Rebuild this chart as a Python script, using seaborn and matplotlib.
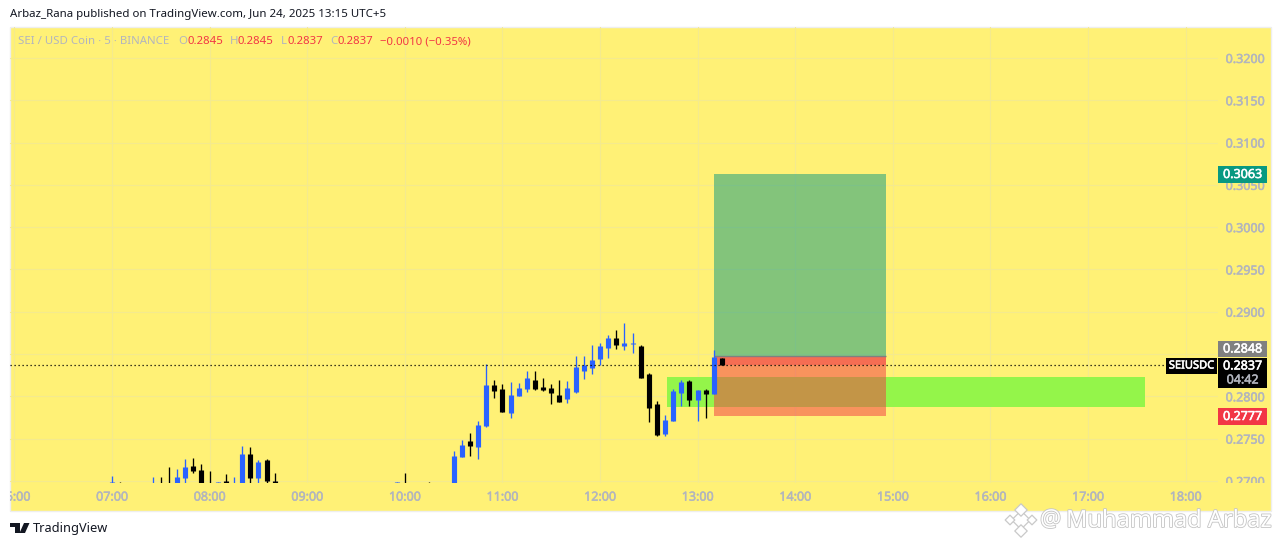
import matplotlib
matplotlib.use("Agg")
import matplotlib.pyplot as plt
import matplotlib.patheffects as pe
from matplotlib.patches import Rectangle, Polygon
from matplotlib.transforms import Bbox
import seaborn as sns
import pandas as pd

# velas de 5 minutos (las de la izquierda quedan casi fuera de la vista)
times = ["07:00", "07:05", "07:25", "07:30", "07:35", "07:40", "07:45", "07:50", "07:55", "08:00",
         "08:05", "08:10", "08:15", "08:20", "08:25", "08:30", "08:35", "08:40", "09:55", "10:00",
         "10:15", "10:30", "10:35", "10:40", "10:45", "10:50", "10:55", "11:00", "11:05", "11:10",
         "11:15", "11:20", "11:25", "11:30", "11:35", "11:40", "11:45", "11:50", "11:55", "12:00",
         "12:05", "12:10", "12:15", "12:20", "12:25", "12:30", "12:35", "12:40", "12:45", "12:50",
         "12:55", "13:00", "13:05", "13:10", "13:15"]
opens = [.2698, .2696, .2690, .2695, .2695, .2690, .27036, .27177, .27130, .2695,
         .2697, .26996, .2690, .2690, .27319, .27036, .27248, .27000, .2696, .2695,
         .2695, .2692, .27284, .27473, .27402, .27650, .28135, .28087, .27804, .28005,
         .28087, .28194, .28111, .28099, .28016, .27969, .28052, .28300, .28336, .28442,
         .28572, .28690, .28596, .28619, .28596, .28265, .27910, .27555, .27709, .28040,
         .28182, .27957, .28079, .28028, .2845]
highs = [.27059, .26992, .27047, .27047, .27166, .27142, .27260, .27272, .27201, .27118,
         .26988, .27083, .27047, .27414, .27402, .27248, .27260, .27095, .26988, .27095,
         .26992, .27355, .27485, .27567, .27709, .28383, .28194, .28146, .28170, .28158,
         .28300, .28300, .28217, .28146, .28194, .28182, .28478, .28478, .28607, .28631,
         .28726, .28785, .28867, .28749, .28607, .28276, .27945, .27780, .28087, .28194,
         .28194, .28075, .28091, .28548, .2845]
lows = [.2690, .2690, .2685, .2685, .2685, .2685, .2695, .27095, .2685, .2685,
        .2690, .2685, .2685, .2685, .2690, .2690, .2690, .2685, .2690, .2685,
        .2685, .2690, .27284, .27296, .27260, .27638, .27981, .27815, .27745, .28005,
        .28052, .28075, .28064, .27910, .27934, .27922, .28040, .28205, .28265, .28371,
        .28454, .28560, .28548, .28513, .28217, .27697, .27532, .27532, .27709, .27886,
        .27886, .27709, .27745, .28028, .2837]
closes = [.26988, .2695, .2695, .2690, .2690, .27047, .27166, .27118, .2690, .2690,
          .26988, .2692, .2695, .27319, .27036, .27225, .27000, .2692, .26988, .2690,
          .2690, .27296, .27426, .27414, .27662, .28135, .28064, .27815, .28016, .28099,
          .28217, .28087, .28075, .28040, .27934, .28099, .28347, .28371, .28430, .28596,
          .28690, .28607, .28631, .28631, .28217, .27863, .27544, .27721, .28064, .28170,
          .27957, .28075, .28028, .28470, .2837]

price_ticks = [.27, .275, .28, .285, .29, .295, .30, .305, .31, .315, .32]
price_labels = ["0.2700", "0.2750", "0.2800", "", "0.2900", "0.2950", "0.3000", "0.3050", "0.3100", "0.3150", "0.3200"]
hour_ticks = [6, 7, 8, 9, 10, 11, 12, 13, 14, 15, 16, 17, 18]
hour_labels = ["06:00", "07:00", "08:00", "09:00", "10:00", "11:00", "12:00", "13:00", "14:00", "15:00", "16:00", "17:00", "18:00"]

# posicion larga y zona marcada
entry, target, stop, last_price = 0.2848, 0.3063, 0.2777, 0.2837
pos_start, pos_end = "13:10", "14:56"
zone_start, zone_end = "12:41", "17:35"
zone_high, zone_low = 0.28229, 0.27875

BLUE, RED, TEAL, GREY, YELLOW = "#2962ff", "#f23645", "#089981", "#b2b5be", "#fff176"
LIME = "#94f54a"


def to_hour(t):
    return int(t[:2]) + int(t[3:]) / 60


sns.set_theme(style="white")
plt.rcParams["font.family"] = ["Noto Sans", "DejaVu Sans"]

velas = pd.DataFrame({"t": [to_hour(t) for t in times], "open": opens, "high": highs, "low": lows, "close": closes})
velas["bar"] = velas.index
velas["up"] = velas["close"] >= velas["open"]
wicks = velas.melt(id_vars=["bar", "t", "up"], value_vars=["high", "low"], value_name="price")
bodies = velas.melt(id_vars=["bar", "t", "up"], value_vars=["open", "close"], value_name="price")
colores = {True: BLUE, False: "black"}

fig = plt.figure(figsize=(12.81, 5.46), dpi=100, facecolor="white")

# fondo amarillo
bg = fig.add_axes([0, 0, 1, 1], zorder=0)
bg.set_xlim(0, 1281)
bg.set_ylim(546, 0)
bg.axis("off")
bg.add_patch(Rectangle((10, 27), 1261, 484, fc=YELLOW, ec="#eeeeee", lw=1))

ax = fig.add_axes([10 / 1281, 63 / 546, 1208 / 1281, 456 / 546], zorder=1)
ax.patch.set_visible(False)
for s in ax.spines.values():
    s.set_visible(False)

ax.fill_between([to_hour(zone_start), to_hour(zone_end)], zone_low, zone_high, color=LIME, lw=0, zorder=1.5)
pos_x = [to_hour(pos_start), to_hour(pos_end)]
ax.fill_between(pos_x, entry, target, color=TEAL, alpha=0.5, lw=0, zorder=2)
ax.fill_between(pos_x, stop, entry, color=RED, alpha=0.5, lw=0, zorder=2)
ax.fill_between(pos_x, last_price, entry, color=RED, alpha=0.4, lw=0, zorder=2)
ax.hlines(entry, pos_x[0], pos_x[1], color="#808080", lw=1, zorder=2.2)

sns.lineplot(data=wicks, x="t", y="price", hue="up", units="bar", estimator=None, sort=False,
             palette=colores, legend=False, lw=0.95, solid_capstyle="butt", zorder=3, ax=ax)
sns.lineplot(data=bodies, x="t", y="price", hue="up", units="bar", estimator=None, sort=False,
             palette=colores, legend=False, lw=3.7, solid_capstyle="butt", zorder=3.1, ax=ax)

ax.axhline(last_price, color="black", lw=0.9, ls=(0, (1, 2.2)), zorder=4)

ax.set_xlim(5.9549, 18.332)
ax.set_ylim(0.26976, 0.32366)
ax.set_xlabel("")
ax.set_ylabel("")
ax.yaxis.tick_right()
ax.set_xticks(hour_ticks, hour_labels)
ax.set_yticks(price_ticks, price_labels)
ax.grid(True, color="#f4ea8e", lw=0.8)
ax.set_axisbelow(True)
ax.tick_params(axis="both", length=0, labelsize=9, labelcolor=GREY)
ax.tick_params(axis="x", pad=5.5)
ax.tick_params(axis="y", pad=5.5)

# el texto de los ejes se ve algo mas grueso en el original
grueso = [pe.withStroke(linewidth=0.35, foreground=GREY)]
for lab in ax.get_xticklabels():
    lab.set_clip_box(Bbox([[10, 0], [1281, 546]]))
    lab.set_clip_on(True)
    lab.set_path_effects(grueso)
for lab in ax.get_yticklabels():
    lab.set_clip_box(Bbox([[0, 63], [1281, 546]]))
    lab.set_clip_on(True)
    lab.set_path_effects(grueso)

# capa de textos en pixeles
top = fig.add_axes([0, 0, 1, 1], zorder=2)
top.set_xlim(0, 1281)
top.set_ylim(546, 0)
top.axis("off")
top.patch.set_visible(False)

top.text(10, 15, "Arbaz_Rana published on TradingView.com, Jun 24, 2025 13:15 UTC+5",
         fontsize=8.25, color="#131722", va="center")
top.text(18, 42, "SEI / USD Coin · 5 · BINANCE", fontsize=8.2, color=GREY, va="center")
for x, s, c in [(178, "O", GREY), (187, "0.2845", RED), (230, "H", GREY), (238, "0.2845", RED),
                (281, "L", GREY), (287, "0.2837", RED), (330, "C", GREY), (337, "0.2837", RED),
                (380, "−0.0010 (−0.35%)", RED)]:
    top.text(x, 42, s, fontsize=8.2, color=c, va="center")


def etiqueta(y0, y1, color, texto, x0=1218, x1=1267, tc="white", size=9):
    top.add_patch(Rectangle((x0, y0), x1 - x0, y1 - y0, fc=color, ec="none"))
    top.text((x0 + x1) / 2, (y0 + y1) / 2 if y1 - y0 < 20 else y0 + 8, texto, color=tc, fontsize=size,
             ha="center", va="center", path_effects=[pe.withStroke(linewidth=0.4, foreground=tc)])


etiqueta(166, 183, "#089981", "0.3063")
etiqueta(341, 357, "#808080", "0.2848")
etiqueta(358, 388, "black", "0.2837")
top.text(1242.5, 380, "04:42", color=GREY, fontsize=9, ha="center", va="center", path_effects=grueso)
etiqueta(358, 374, "black", "SEIUSDC", x0=1166, x1=1217, size=8)
etiqueta(408, 425, RED, "0.2777")

# logo y marca de agua
top.add_patch(Polygon([(10, 523), (20, 523), (20, 533), (15, 533), (15, 527), (10, 527)], fc="#131722", ec="none"))
top.add_patch(Polygon([(24, 523), (29.5, 523), (25, 533), (19.5, 533)], fc="#131722", ec="none"))
top.text(33, 528.5, "TradingView", fontsize=9.2, color="#131722", va="center")

halo = [pe.withStroke(linewidth=1.2, foreground="#c4c4c4")]
top.text(1040, 520, "@", fontsize=17, color="white", va="center", path_effects=halo)
top.text(1066, 521, "Muhammad Arbaz", fontsize=17, color="white", va="center", path_effects=halo)
top.scatter([1021, 1010, 1032, 1021, 1021], [520, 520, 520, 510, 531], marker="D", s=[90, 24, 24, 40, 40],
            c="white", edgecolors="#c9c9c9", linewidths=0.9)

fig.savefig("out.png", dpi=100)
